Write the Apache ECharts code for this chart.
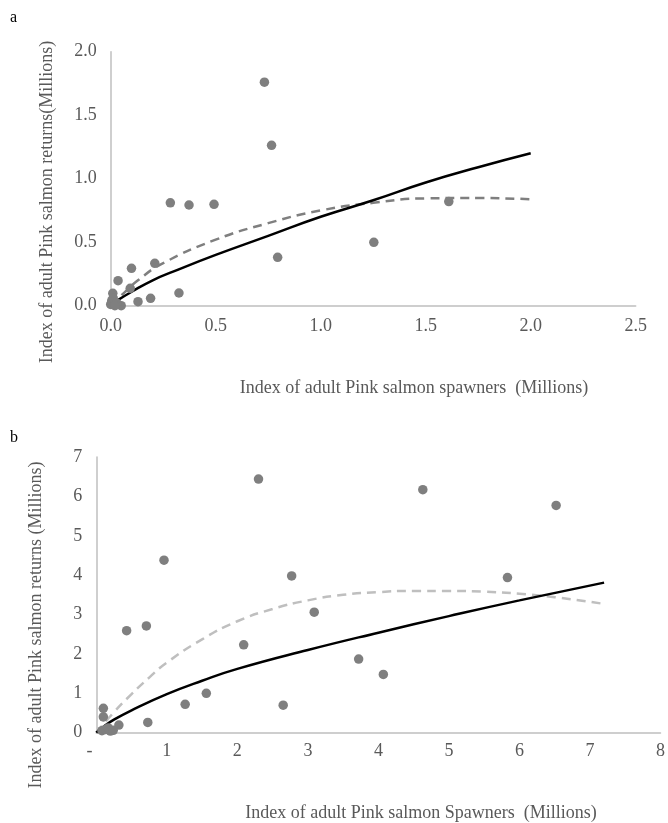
<!DOCTYPE html>
<html><head><meta charset="utf-8">
<script src="https://cdn.jsdelivr.net/npm/echarts@6/dist/echarts.min.js"></script>
<style>html,body{margin:0;padding:0;background:#fff}#c{width:668px;height:823px}</style>
</head><body><div id="c"></div>
<script>
// Panel a data
const aPoints = [[0.732,1.76],[0.766,1.263],[0.284,0.81],[0.373,0.793],[0.492,0.798],[1.253,0.499],[1.61,0.82],
  [0.795,0.381],[0.21,0.334],[0.099,0.294],[0.035,0.197],[0.093,0.137],[0.325,0.10],[0.01,0.098],[0.19,0.058],
  [0.13,0.032],[0.05,0.0],[0.0,0.01],[0.005,0.04],[0.012,0.06],[0.03,0.02],[0.02,0.0]];
const aSolid = [[0.03,0.04],[0.1,0.11],[0.2,0.2],[0.3,0.27],[0.5,0.40],[0.75,0.55],[1.0,0.70],[1.25,0.83],[1.5,0.97],[1.75,1.09],[2.0,1.20]];
const aDashed = [[0.0,0.0],[0.05,0.08],[0.13,0.2],[0.25,0.335],[0.5,0.52],[0.75,0.65],[1.0,0.75],[1.25,0.81],[1.5,0.845],[1.75,0.848],[2.0,0.838]];
const aXTicks = [0,0.5,1.0,1.5,2.0,2.5];
const aYTicks = [0,0.5,1.0,1.5,2.0];
// Panel b data
const bPoints = [[2.30,6.44],[4.63,6.17],[6.52,5.77],[0.96,4.38],[2.77,3.98],[5.83,3.94],[3.09,3.06],[0.43,2.59],
  [0.71,2.71],[2.09,2.23],[3.72,1.87],[4.07,1.48],[1.56,1.00],[1.26,0.72],[2.65,0.70],[0.73,0.26],[0.32,0.195],
  [0.10,0.62],[0.10,0.40],[0.08,0.05],[0.13,0.08],[0.17,0.12],[0.2,0.04],[0.24,0.06]];
const bSolid = [[0,0],[0.1,0.15],[0.25,0.33],[0.5,0.57],[1,0.98],[1.5,1.32],[2,1.62],[3,2.1],[4,2.54],[5,2.96],[6,3.36],[7.2,3.81]];
const bDashed = [[0,0],[0.25,0.52],[0.5,0.98],[0.75,1.4],[1,1.78],[1.5,2.37],[2,2.83],[2.5,3.14],[3,3.36],[3.5,3.5],[4,3.57],[4.5,3.6],[5,3.6],[5.5,3.58],[6,3.53],[6.5,3.44],[7.2,3.27]];

const FONT = '"Liberation Serif","Times New Roman",serif';
const GREY = '#595959';
const chart = echarts.init(document.getElementById('c'));
function xAx(gi, max, interval, fmt, margin){
  return {type:'value', gridIndex:gi, min:0, max:max, interval:interval,
    axisLine:{show:true, onZero:false, lineStyle:{color:'#bfbfbf', width:1.5}},
    axisTick:{show:false}, splitLine:{show:false},
    axisLabel:{color:GREY, fontFamily:FONT, fontSize:18, margin:margin, formatter:fmt, showMaxLabel:true}};
}
function yAx(gi, max, interval, fmt){
  return {type:'value', gridIndex:gi, min:0, max:max, interval:interval,
    axisLine:{show:true, lineStyle:{color:'#bfbfbf', width:1.5}},
    axisTick:{show:false}, splitLine:{show:false},
    axisLabel:{color:GREY, fontFamily:FONT, fontSize:18, margin:14, formatter:fmt}};
}
const lineBase = {type:'line', smooth:true, showSymbol:false, silent:true, z:2};
chart.setOption({
  animation:false,
  grid:[
    {left:110.7, top:51.7, width:525, height:254},
    {left:96.3, top:457, width:566.7, height:275.7}
  ],
  xAxis:[
    xAx(0, 2.5, 0.5, v=>v.toFixed(1), 12),
    xAx(1, 8, 1, v=>v===0?'-   ':String(v), 10)
  ],
  yAxis:[
    yAx(0, 2.0, 0.5, v=>v.toFixed(1)),
    yAx(1, 7, 1, v=>String(v))
  ],
  series:[
    {type:'scatter', xAxisIndex:0, yAxisIndex:0, data:aPoints, symbolSize:9.5, itemStyle:{color:'#7f7f7f', opacity:1}, z:3},
    Object.assign({}, lineBase, {xAxisIndex:0, yAxisIndex:0, data:aDashed, lineStyle:{color:'#7f7f7f', width:2.5, type:[9,6]}}),
    Object.assign({}, lineBase, {xAxisIndex:0, yAxisIndex:0, data:aSolid, lineStyle:{color:'#000', width:2.5}}),
    {type:'scatter', xAxisIndex:1, yAxisIndex:1, data:bPoints, symbolSize:9.5, itemStyle:{color:'#7f7f7f', opacity:1}, z:3},
    Object.assign({}, lineBase, {xAxisIndex:1, yAxisIndex:1, data:bDashed, lineStyle:{color:'#bfbfbf', width:2.5, type:[9,6]}}),
    Object.assign({}, lineBase, {xAxisIndex:1, yAxisIndex:1, data:bSolid, lineStyle:{color:'#000', width:2.5}})
  ],
  graphic:[
    {type:'text', x:10, y:10, style:{text:'a', font:'16px '+FONT, fill:'#000'}},
    {type:'text', x:10, y:430, style:{text:'b', font:'16px '+FONT, fill:'#000'}},
    {type:'text', x:414, y:388, style:{text:'Index of adult Pink salmon spawners  (Millions)', font:'18px '+FONT, fill:GREY, align:'center', verticalAlign:'middle'}},
    {type:'text', x:47, y:202, rotation:Math.PI/2, style:{text:'Index of adult Pink salmon returns(Millions)', font:'18px '+FONT, fill:GREY, align:'center', verticalAlign:'middle'}},
    {type:'text', x:421, y:813, style:{text:'Index of adult Pink salmon Spawners  (Millions)', font:'18px '+FONT, fill:GREY, align:'center', verticalAlign:'middle'}},
    {type:'text', x:36, y:625, rotation:Math.PI/2, style:{text:'Index of adult Pink salmon returns (Millions)', font:'18px '+FONT, fill:GREY, align:'center', verticalAlign:'middle'}}
  ]
});
</script></body></html>
